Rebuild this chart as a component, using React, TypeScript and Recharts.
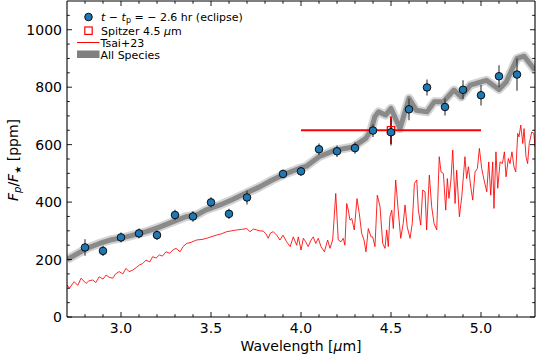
import React from 'react';
import { ComposedChart, XAxis, YAxis, Line, Scatter, ErrorBar } from 'recharts';

// NIRSpec-like eclipse points (t - tp = -2.6 hr)
const obsWave = [2.8, 2.9, 3.0, 3.1, 3.2, 3.3, 3.4, 3.5, 3.6, 3.7, 3.9, 4.0, 4.1, 4.2, 4.3, 4.4, 4.5, 4.6, 4.7, 4.8, 4.9, 5.0, 5.1, 5.2];
const obsFlux = [242, 230, 277, 291, 285, 355, 350, 399, 359, 416, 498, 507, 584, 577, 588, 649, 643, 723, 799, 731, 791, 772, 838, 844];
const obsErr = [29, 18, 17, 17, 17, 18, 18, 18, 18, 24, 15, 15, 20, 20, 20, 22, 46, 38, 28, 30, 33, 36, 38, 56];

// Spitzer 4.5 um photometry
const spitzerWave = [4.5];
const spitzerFlux = [650];
const spitzerHalfWidth = [0.5];
const spitzerErr = [48];

// All Species model
const modelWave = [2.7, 2.81, 2.88, 2.94, 3.03, 3.14, 3.21, 3.29, 3.36, 3.42, 3.47, 3.55, 3.62, 3.69, 3.77, 3.84, 3.92, 3.99, 4.03, 4.1, 4.19, 4.29, 4.36, 4.39, 4.41, 4.43, 4.47, 4.5, 4.55, 4.6, 4.64, 4.7, 4.74, 4.79, 4.85, 4.89, 4.94, 5.03, 5.1, 5.14, 5.2, 5.24, 5.3];
const modelFlux = [200, 239, 256, 268, 279, 297, 312, 332, 349, 355, 372, 390, 409, 430, 453, 477, 500, 517, 525, 558, 581, 592, 622, 651, 697, 714, 703, 726, 656, 761, 720, 714, 749, 749, 790, 766, 807, 824, 792, 818, 900, 908, 859];

// Tsai+23 spectrum
const tsaiWave = [
  2.7, 2.713, 2.74, 2.76, 2.778, 2.806, 2.82, 2.843, 2.86, 2.879, 2.9, 2.917, 2.935, 2.954, 2.97, 2.99,
  3.01, 3.028, 3.045, 3.065, 3.085, 3.102, 3.12, 3.139, 3.16, 3.176, 3.195, 3.213, 3.23, 3.25, 3.27, 3.29,
  3.306, 3.328, 3.345, 3.365, 3.39, 3.42, 3.45, 3.476, 3.5, 3.53, 3.56, 3.587, 3.615, 3.643, 3.67, 3.698,
  3.717, 3.735, 3.754, 3.77, 3.79, 3.805, 3.818, 3.83, 3.846, 3.865, 3.883, 3.9, 3.92, 3.94, 3.957, 3.976,
  3.985, 4.0, 4.013, 4.026, 4.04, 4.056, 4.068, 4.082, 4.096, 4.111, 4.13, 4.148, 4.161, 4.176, 4.193, 4.207,
  4.222, 4.235, 4.244, 4.254, 4.263, 4.272, 4.282, 4.296, 4.311, 4.324, 4.337, 4.35, 4.361, 4.374, 4.389, 4.398,
  4.411, 4.424, 4.439, 4.454, 4.467, 4.476, 4.485, 4.494, 4.504, 4.513, 4.526, 4.54, 4.554, 4.568, 4.578, 4.59,
  4.606, 4.618, 4.63, 4.643, 4.652, 4.665, 4.676, 4.689, 4.698, 4.713, 4.726, 4.739, 4.754, 4.768, 4.778, 4.791,
  4.804, 4.813, 4.822, 4.833, 4.843, 4.856, 4.865, 4.88, 4.893, 4.911, 4.92, 4.93, 4.943, 4.954, 4.967, 4.98,
  4.991, 5.004, 5.017, 5.032, 5.043, 5.054, 5.065, 5.072, 5.083, 5.093, 5.106, 5.119, 5.13, 5.139, 5.152, 5.161,
  5.172, 5.183, 5.193, 5.204, 5.211, 5.221, 5.232, 5.239, 5.25, 5.259, 5.268, 5.282, 5.294, 5.3,
];
const tsaiFlux = [
  112, 100, 123, 110, 135, 117, 125, 129, 120, 140, 132, 146, 138, 135, 150, 158,
  150, 169, 158, 163, 172, 181, 186, 198, 192, 210, 205, 216, 212, 227, 222, 234,
  239, 227, 245, 256, 260, 268, 270, 274, 279, 285, 290, 297, 300, 303, 305, 308,
  297, 306, 303, 300, 299, 290, 274, 292, 297, 285, 268, 285, 262, 245, 279, 250,
  279, 233, 274, 262, 245, 268, 279, 256, 274, 245, 227, 268, 239, 268, 430, 268,
  262, 274, 250, 395, 372, 337, 343, 303, 412, 360, 291, 268, 227, 308, 279, 279,
  245, 424, 384, 256, 239, 303, 245, 349, 372, 308, 477, 372, 274, 326, 390, 314,
  274, 326, 465, 477, 372, 320, 442, 436, 303, 494, 384, 326, 303, 558, 505, 500,
  372, 482, 413, 477, 581, 395, 511, 349, 418, 558, 482, 523, 453, 407, 505, 517,
  587, 517, 477, 436, 540, 424, 540, 378, 575, 448, 540, 534, 575, 488, 552, 534,
  575, 523, 505, 639, 627, 668, 604, 656, 558, 534, 604, 644, 639, 592,
];

const xMajorTicks = [3.0, 3.5, 4.0, 4.5, 5.0];
const xMinorTicks = [2.8, 2.9, 3.1, 3.2, 3.3, 3.4, 3.6, 3.7, 3.8, 3.9, 4.1, 4.2, 4.3, 4.4, 4.6, 4.7, 4.8, 4.9, 5.1, 5.2];
const yMajorTicks = [0, 200, 400, 600, 800, 1000];
const yMinorTicks = [50, 100, 150, 250, 300, 350, 450, 500, 550, 650, 700, 750, 850, 900, 950, 1050];

const FONT = '"DejaVu Sans", sans-serif';

const obsData = obsWave.map((x, i) => ({ x, y: obsFlux[i], err: obsErr[i] }));
const spitzerData = spitzerWave.map((x, i) => ({ x, y: spitzerFlux[i], xerr: spitzerHalfWidth[i], yerr: spitzerErr[i] }));
const modelData = modelWave.map((x, i) => ({ x, y: modelFlux[i] }));
const tsaiData = tsaiWave.map((x, i) => ({ x, y: tsaiFlux[i] }));

const xTicks = [...xMajorTicks, ...xMinorTicks].sort((a, b) => a - b);
const yTicks = [...yMajorTicks, ...yMinorTicks].sort((a, b) => a - b);

function BottomTick(props: any) {
  const { x, y, payload } = props;
  const major = xMajorTicks.includes(payload.value);
  return (
    <g>
      <line x1={x} x2={x} y1={y} y2={y - (major ? 5 : 2.8)} stroke="#000" strokeWidth={0.9} />
      {major && (
        <text x={x} y={y + 16} textAnchor="middle" fontSize={14} fontFamily={FONT} fill="#000">
          {payload.value.toFixed(1)}
        </text>
      )}
    </g>
  );
}

function TopTick(props: any) {
  const { x, y, payload } = props;
  const major = xMajorTicks.includes(payload.value);
  return <line x1={x} x2={x} y1={y} y2={y + (major ? 5 : 2.8)} stroke="#000" strokeWidth={0.9} />;
}

function LeftTick(props: any) {
  const { x, y, payload } = props;
  const major = yMajorTicks.includes(payload.value);
  return (
    <g>
      <line x1={x} x2={x + (major ? 5 : 2.8)} y1={y} y2={y} stroke="#000" strokeWidth={0.9} />
      {major && (
        <text x={x - 5} y={y + 5} textAnchor="end" fontSize={14} fontFamily={FONT} fill="#000">
          {payload.value}
        </text>
      )}
    </g>
  );
}

function RightTick(props: any) {
  const { x, y, payload } = props;
  const major = yMajorTicks.includes(payload.value);
  return <line x1={x} x2={x - (major ? 5 : 2.8)} y1={y} y2={y} stroke="#000" strokeWidth={0.9} />;
}

function XLabel() {
  return (
    <text x={301} y={351} textAnchor="middle" fontSize={14} fontFamily={FONT} fill="#000">
      Wavelength [<tspan fontStyle="italic">μ</tspan>m]
    </text>
  );
}

function YLabel() {
  return (
    <text x={18} y={160} transform="rotate(-90 18 160)" textAnchor="middle" fontSize={14} fontFamily={FONT} fill="#000">
      <tspan fontStyle="italic">F</tspan>
      <tspan fontStyle="italic" fontSize={10} dy={3}>p</tspan>
      <tspan dy={-3}>/</tspan>
      <tspan fontStyle="italic">F</tspan>
      <tspan fontSize={9} dy={3}>★</tspan>
      <tspan dy={-3}> [ppm]</tspan>
    </text>
  );
}

const ObsDot = (p: any) => <circle cx={p.cx} cy={p.cy} r={3.8} fill="#1f77b4" stroke="#000" strokeWidth={0.9} />;
const SpitzerBox = (p: any) => (
  <rect x={p.cx - 3.7} y={p.cy - 3.7} width={7.4} height={7.4} fill="none" stroke="#ff0000" strokeWidth={1.2} />
);

function LegendBox() {
  return (
    <svg width={260} height={70} style={{ position: 'absolute', left: 0, top: 0 }}>
      <g fontFamily={FONT} fontSize={11} fill="#000">
        <circle cx={88.5} cy={17} r={3.8} fill="#1f77b4" stroke="#000" strokeWidth={0.9} />
        <text x={101} y={21}>
          <tspan fontStyle="italic">t</tspan>
          <tspan> − </tspan>
          <tspan fontStyle="italic">t</tspan>
          <tspan fontSize={8} dy={2}>p</tspan>
          <tspan dy={-2}> = − 2.6 hr (eclipse)</tspan>
        </text>
        <rect x={84.8} y={27} width={7.4} height={7.4} fill="none" stroke="#ff0000" strokeWidth={1.2} />
        <text x={101} y={35}>
          Spitzer 4.5 <tspan fontStyle="italic">μ</tspan>m
        </text>
        <line x1={77} x2={99.5} y1={42.5} y2={42.5} stroke="#ff0000" strokeWidth={1} />
        <text x={100.5} y={46.5}>Tsai+23</text>
        <rect x={77} y={50.5} width={22.5} height={7.5} fill="#808080" />
        <text x={100.5} y={58.5}>All Species</text>
      </g>
    </svg>
  );
}

export default function App() {
  return (
    <div style={{ position: 'absolute', left: 0, top: 0, width: 538, height: 359, background: '#fff' }}>
      <ComposedChart width={538} height={359} margin={{ top: 0, right: 0, bottom: 0, left: 0 }}>
        <XAxis
          xAxisId={0}
          type="number"
          dataKey="x"
          domain={[2.7, 5.3]}
          allowDataOverflow
          ticks={xTicks}
          interval={0}
          height={42}
          tickSize={0}
          tickMargin={0}
          tickLine={false}
          tick={<BottomTick />}
          axisLine={{ stroke: '#000', strokeWidth: 1.1 }}
          label={<XLabel />}
        />
        <XAxis
          xAxisId="top"
          orientation="top"
          type="number"
          dataKey="x"
          domain={[2.7, 5.3]}
          allowDataOverflow
          ticks={xTicks}
          interval={0}
          height={1}
          tickSize={0}
          tickMargin={0}
          tickLine={false}
          tick={<TopTick />}
          axisLine={{ stroke: '#000', strokeWidth: 1.1 }}
        />
        <YAxis
          yAxisId={0}
          type="number"
          domain={[0, 1100]}
          allowDataOverflow
          ticks={yTicks}
          interval={0}
          width={67}
          tickSize={0}
          tickMargin={0}
          tickLine={false}
          tick={<LeftTick />}
          axisLine={{ stroke: '#000', strokeWidth: 1.1 }}
          label={<YLabel />}
        />
        <YAxis
          yAxisId="right"
          orientation="right"
          type="number"
          domain={[0, 1100]}
          allowDataOverflow
          ticks={yTicks}
          interval={0}
          width={3}
          tickSize={0}
          tickMargin={0}
          tickLine={false}
          tick={<RightTick />}
          axisLine={{ stroke: '#000', strokeWidth: 1.1 }}
        />
        <Line data={tsaiData} dataKey="y" type="linear" stroke="#ff0000" strokeOpacity={0.85} strokeWidth={1} dot={false} isAnimationActive={false} />
        <Line data={modelData} dataKey="y" type="linear" stroke="#d4d4d4" strokeWidth={9} strokeLinejoin="round" dot={false} isAnimationActive={false} />
        <Line data={modelData} dataKey="y" type="linear" stroke="#8a8a8a" strokeWidth={5} strokeLinejoin="round" dot={false} isAnimationActive={false} />
        <Scatter data={spitzerData} dataKey="y" shape={SpitzerBox} isAnimationActive={false}>
          <ErrorBar dataKey="xerr" direction="x" width={0} stroke="#ff0000" strokeWidth={2} isAnimationActive={false} />
          <ErrorBar dataKey="yerr" direction="y" width={0} stroke="#ff0000" strokeWidth={2} isAnimationActive={false} />
        </Scatter>
        <Scatter data={obsData} dataKey="y" shape={ObsDot} isAnimationActive={false}>
          <ErrorBar dataKey="err" direction="y" width={0} stroke="#333" strokeWidth={1.1} isAnimationActive={false} />
        </Scatter>
      </ComposedChart>
      <LegendBox />
    </div>
  );
}
